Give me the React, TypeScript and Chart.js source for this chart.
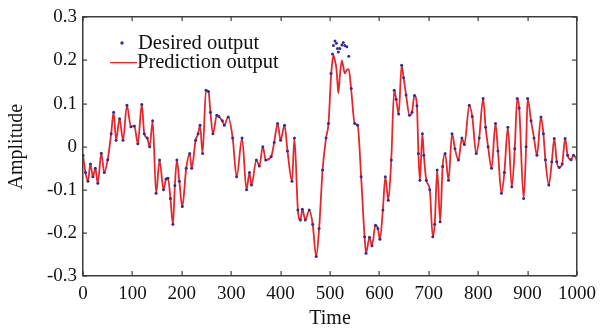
import React, { useEffect, useRef } from "react";
import { Chart, registerables } from "chart.js";

Chart.register(...registerables);

// Time samples
const times: number[] = [
  0, 5, 10, 15, 20, 25, 30, 37, 43, 50, 57, 62, 67, 74, 81, 89, 97, 104, 111, 119,
  124, 130, 135, 141, 148, 155, 163, 168, 172, 177, 182, 186, 190, 195, 201, 209, 216, 220, 228, 233,
  237, 242, 249, 254, 258, 263, 271, 275, 282, 286, 294, 303, 311, 322, 331, 337, 341, 351, 357, 364,
  370, 381, 387, 394, 400, 408, 414, 423, 428, 435, 440, 444, 450, 458, 465, 472, 478, 485, 492, 497,
  502, 505, 507, 510, 513, 515, 517, 520, 524, 527, 530, 534, 538, 543, 550, 556, 563, 570, 573, 580, 585, 592, 597, 601, 607, 612,
  618, 624, 630, 634, 639, 645, 649, 654, 661, 666, 671, 676, 679, 682, 687, 690, 695, 702, 708, 712,
  717, 723, 728, 733, 740, 747, 753, 760, 767, 772, 782, 788, 796, 802, 810, 815, 820, 827, 835, 840,
  847, 853, 860, 868, 874, 879, 883, 892, 897, 900, 907, 913, 919, 927, 932, 936, 943, 949, 954, 959,
  964, 970, 976, 981, 988, 993, 1000,
];

// Prediction output (red line)
const predicted: number[] = [
  -0.02, -0.06, -0.08, -0.04, -0.07, -0.05, -0.085, -0.015, -0.06, -0.03, 0.03, 0.08, 0.015, 0.065, 0.015, 0.096, 0.046, 0.048, 0.007, 0.098,
  0.03, 0.02, 0.0, 0.06, -0.108, -0.031, -0.1, -0.075, -0.073, -0.12, -0.18, -0.09, -0.031, -0.08, -0.139, -0.05, -0.016, -0.05, 0.015, 0.03,
  0.05, -0.016, 0.131, 0.128, 0.08, 0.03, 0.073, 0.07, 0.06, 0.05, 0.069, 0.02, -0.07, 0.02, -0.1, -0.06, -0.089, -0.031, -0.045, 0.0,
  -0.031, -0.023, 0.01, 0.054, 0.015, 0.05, -0.01, -0.08, 0.02, -0.147, -0.17, -0.145, -0.17, -0.147, -0.18, -0.255, -0.19, -0.054, 0.02, 0.054,
  0.162, 0.2, 0.212, 0.2, 0.181, 0.15, 0.124, 0.165, 0.2, 0.185, 0.17, 0.178, 0.18, 0.131, 0.054, 0.05, -0.07, -0.209, -0.247, -0.21, -0.23, -0.182, -0.19, -0.215, -0.147, -0.07,
  -0.124, -0.031, 0.131, 0.11, 0.076, 0.189, 0.16, 0.12, 0.073, 0.08, 0.119, 0.095, -0.016, -0.078, 0.03, -0.02, -0.078, -0.1, -0.209, -0.18,
  -0.054, -0.174, -0.046, -0.016, -0.078, 0.03, -0.005, -0.031, 0.02, 0.005, 0.096, 0.07, -0.016, 0.02, 0.112, 0.045, 0.0, -0.05, 0.054, -0.01,
  -0.108, -0.06, 0.045, -0.093, -0.005, 0.112, 0.09, -0.12, 0.0, 0.112, 0.06, 0.02, -0.02, 0.069, 0.03, -0.03, -0.089, -0.035, 0.019, -0.035,
  -0.048, -0.04, 0.019, -0.02, -0.03, -0.02, -0.03,
];

// Desired output (blue dots) – same as prediction except around the main peak
const desired: number[] = [
  -0.02, -0.06, -0.08, -0.04, -0.07, -0.05, -0.085, -0.015, -0.06, -0.03, 0.03, 0.08, 0.015, 0.065, 0.015, 0.096, 0.046, 0.048, 0.007, 0.098,
  0.03, 0.02, 0.0, 0.06, -0.108, -0.031, -0.1, -0.075, -0.073, -0.12, -0.18, -0.09, -0.031, -0.08, -0.139, -0.05, -0.016, -0.05, 0.015, 0.03,
  0.05, -0.016, 0.131, 0.128, 0.08, 0.03, 0.073, 0.07, 0.06, 0.05, 0.069, 0.02, -0.07, 0.02, -0.1, -0.06, -0.089, -0.031, -0.045, 0.0,
  -0.031, -0.023, 0.01, 0.054, 0.015, 0.05, -0.01, -0.08, 0.02, -0.147, -0.17, -0.145, -0.17, -0.147, -0.18, -0.255, -0.19, -0.054, 0.02, 0.054,
  0.17, 0.215, 0.235, 0.245, 0.24, 0.228, 0.22, 0.228, 0.236, 0.242, 0.235, 0.232, 0.21, 0.135, 0.054, 0.05, -0.07, -0.209, -0.247, -0.21, -0.23, -0.182, -0.19, -0.215, -0.147, -0.07,
  -0.124, -0.031, 0.131, 0.11, 0.076, 0.189, 0.16, 0.12, 0.073, 0.08, 0.119, 0.095, -0.016, -0.078, 0.03, -0.02, -0.078, -0.1, -0.209, -0.18,
  -0.054, -0.174, -0.046, -0.016, -0.078, 0.03, -0.005, -0.031, 0.02, 0.005, 0.096, 0.07, -0.016, 0.02, 0.112, 0.045, 0.0, -0.05, 0.054, -0.01,
  -0.108, -0.06, 0.045, -0.093, -0.005, 0.112, 0.09, -0.12, 0.0, 0.112, 0.06, 0.02, -0.02, 0.069, 0.03, -0.03, -0.089, -0.035, 0.019, -0.035,
  -0.048, -0.04, 0.019, -0.02, -0.03, -0.02, -0.03,
];

const xTicks: number[] = [0, 100, 200, 300, 400, 500, 600, 700, 800, 900, 1000];
const yTicks: number[] = [-0.3, -0.2, -0.1, 0, 0.1, 0.2, 0.3];

const seriesNames: string[] = ["Desired output", "Prediction output"];

const FONT = "'Liberation Serif', 'Times New Roman', serif";
const BLUE = "#2e3192";
const RED = "#e8262a";
const AXIS = "#3c3c3c";

const framePlugin = {
  id: "frameAndLegend",
  afterDraw(chart: any) {
    const { ctx, chartArea, scales } = chart;
    const L = Math.round(chartArea.left);
    const R = Math.round(chartArea.right);
    const T = Math.round(chartArea.top);
    const B = Math.round(chartArea.bottom);
    ctx.save();
    ctx.setLineDash([]);
    ctx.globalAlpha = 1;
    ctx.fillStyle = AXIS;
    // frame drawn as filled rectangles
    ctx.fillRect(L - 1, T - 1, R - L + 1, 1.5);
    ctx.fillRect(L - 1, B - 1, R - L + 1, 1.5);
    ctx.fillRect(L - 1, T - 1, 1.5, B - T + 1);
    ctx.fillRect(R - 1, T - 1, 1.5, B - T + 1);
    const tl = 4;
    xTicks.forEach((t) => {
      const x = Math.round(scales.x.getPixelForValue(t));
      ctx.fillRect(x - 0.5, B - 1 - tl, 1.2, tl);
      ctx.fillRect(x - 0.5, T, 1.2, tl);
    });
    yTicks.forEach((t) => {
      const y = Math.round(scales.y.getPixelForValue(t));
      ctx.fillRect(L, y - 0.5, tl, 1.2);
      ctx.fillRect(R - 1 - tl, y - 0.5, tl, 1.2);
    });

    // legend
    ctx.font = `20.5px ${FONT}`;
    ctx.textBaseline = "middle";
    ctx.textAlign = "left";
    ctx.beginPath();
    ctx.fillStyle = BLUE;
    ctx.arc(122, 43, 1.7, 0, Math.PI * 2);
    ctx.fill();
    ctx.fillStyle = "#111";
    ctx.fillText(seriesNames[0], 138, 44);
    ctx.fillStyle = RED;
    ctx.fillRect(110, 62, 27, 1.3);
    ctx.fillStyle = "#111";
    ctx.fillText(seriesNames[1], 137, 63);
    ctx.restore();
  },
};

export default function App() {
  const ref = useRef<HTMLCanvasElement | null>(null);
  useEffect(() => {
    if (!ref.current) return;
    const chart = new Chart(ref.current, {
      type: "scatter",
      data: {
        datasets: [
          {
            label: seriesNames[0],
            data: times.map((t, i) => ({ x: t, y: desired[i] })),
            showLine: false,
            pointRadius: 1.5,
            pointBackgroundColor: BLUE,
            pointBorderColor: BLUE,
            pointBorderWidth: 0,
          },
          {
            label: seriesNames[1],
            data: times.map((t, i) => ({ x: t, y: predicted[i] })),
            showLine: true,
            borderColor: RED,
            borderWidth: 1.8,
            pointRadius: 0,
            cubicInterpolationMode: "monotone",
          },
        ],
      },
      options: {
        animation: false,
        responsive: true,
        maintainAspectRatio: false,
        layout: { padding: { top: 17, right: 24, left: 0, bottom: 0 } },
        plugins: { legend: { display: false }, tooltip: { enabled: false } },
        scales: {
          x: {
            type: "linear",
            min: 0,
            max: 1000,
            afterBuildTicks: (s: any) => {
              s.ticks = xTicks.map((v) => ({ value: v }));
            },
            afterFit: (s: any) => {
              s.height = 55;
            },
            grid: { display: false, drawTicks: false },
            border: { display: false },
            ticks: {
              color: "#111",
              font: { family: FONT, size: 19 },
              padding: 7,
              maxRotation: 0,
              callback: (v: any) => String(v),
            },
            title: {
              display: true,
              text: "Time",
              color: "#111",
              font: { family: FONT, size: 20 },
              padding: { top: 0, bottom: 0 },
            },
          },
          y: {
            type: "linear",
            min: -0.3,
            max: 0.3,
            afterBuildTicks: (s: any) => {
              s.ticks = yTicks.map((v) => ({ value: v }));
            },
            afterFit: (s: any) => {
              s.width = 83;
            },
            grid: { display: false, drawTicks: false },
            border: { display: false },
            ticks: {
              color: "#111",
              font: { family: FONT, size: 19 },
              padding: 6,
              callback: (v: any) => {
                const n = Math.round(Number(v) * 10) / 10;
                return n === 0 ? "0" : n.toFixed(1);
              },
            },
            title: {
              display: true,
              text: "Amplitude",
              color: "#111",
              font: { family: FONT, size: 20 },
              padding: { top: 5, bottom: 0 },
            },
          },
        },
      },
      plugins: [framePlugin],
    });
    return () => chart.destroy();
  }, []);
  return (
    <div style={{ position: "fixed", left: 0, top: 0, width: 603, height: 331, background: "#fff" }}>
      <canvas ref={ref} />
    </div>
  );
}
